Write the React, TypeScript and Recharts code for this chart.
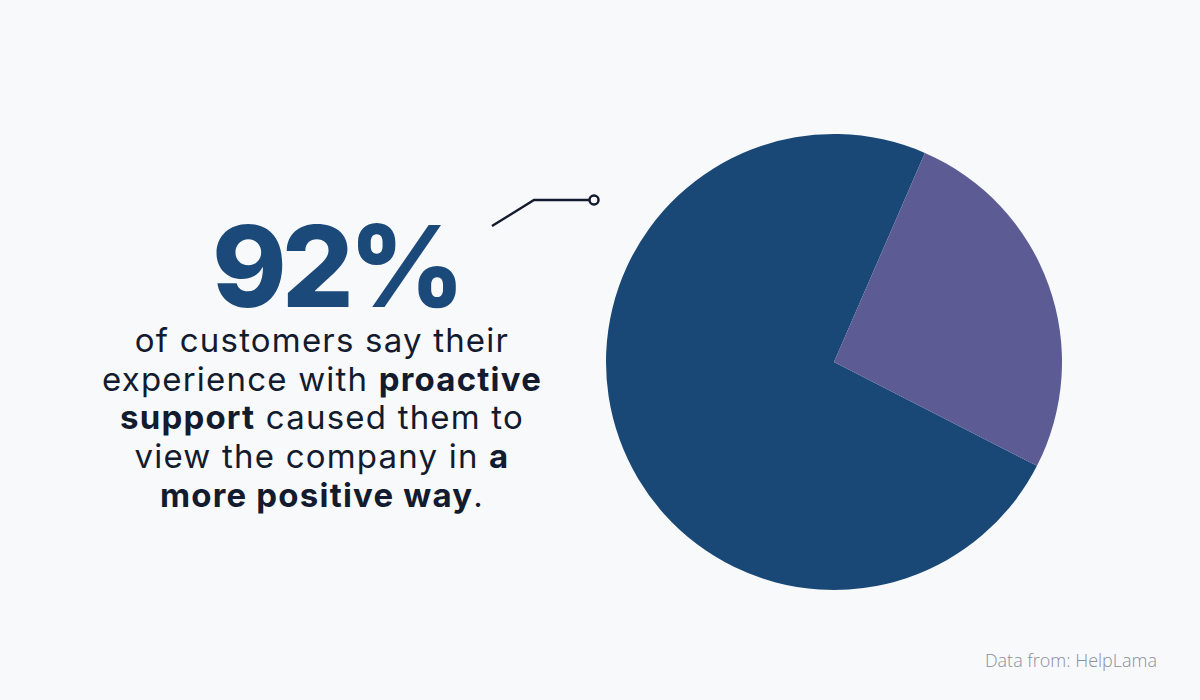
import { PieChart, Pie, Cell } from "recharts";

// share of the pie as drawn (dark slice vs purple slice)
const sliceNames = ["Positive view", "Other"];
const sliceValues = [74, 26];

const headline = "92%";
const bodyLines: { text: string; bold: boolean }[][] = [
  [{ text: "of customers say their", bold: false }],
  [
    { text: "experience with ", bold: false },
    { text: "proactive", bold: true },
  ],
  [
    { text: "support", bold: true },
    { text: " caused them to", bold: false },
  ],
  [
    { text: "view the company in ", bold: false },
    { text: "a", bold: true },
  ],
  [
    { text: "more positive way", bold: true },
    { text: ".", bold: false },
  ],
];
const sourceNote = "Data from: HelpLama";

const BG = "#f8f9fb";
const COLORS = ["#194877", "#5c5b93"];
const INK = "#131b2e";

const pieData = sliceNames.map((name, i) => ({ name, value: sliceValues[i] }));

export default function App() {
  return (
    <div
      style={{
        position: "fixed",
        left: 0,
        top: 0,
        width: 1200,
        height: 700,
        background: BG,
      }}
    >
      <PieChart width={1200} height={700} margin={{ top: 0, right: 0, bottom: 0, left: 0 }}>
        <Pie
          data={pieData}
          dataKey="value"
          nameKey="name"
          cx={834}
          cy={362}
          outerRadius={228}
          startAngle={66.5}
          endAngle={426.5}
          stroke="none"
          isAnimationActive={false}
        >
          {pieData.map((d, i) => (
            <Cell key={d.name} fill={COLORS[i]} />
          ))}
        </Pie>

        <text
          x={336}
          y={307}
          textAnchor="middle"
          fontFamily="Inter"
          fontWeight={800}
          fontSize={113}
          letterSpacing={-5}
          fill="#1b4a7a"
        >
          {headline}
        </text>

        {bodyLines.map((line, i) => (
          <text
            key={i}
            x={322}
            y={352 + i * 38.7}
            textAnchor="middle"
            fontFamily="Inter"
            fontSize={33}
            letterSpacing={1.2}
            fill={INK}
          >
            {line.map((seg, j) => (
              <tspan key={j} fontWeight={seg.bold ? 700 : 400}>
                {seg.text}
              </tspan>
            ))}
          </text>
        ))}

        <path
          d="M492,226 L534,200 L589,200"
          fill="none"
          stroke={INK}
          strokeWidth={2.5}
        />
        <circle cx={594} cy={200} r={4.5} fill={BG} stroke={INK} strokeWidth={2.5} />

        <text
          x={1157}
          y={667}
          textAnchor="end"
          fontFamily="Open Sans"
          fontWeight={300}
          fontSize={18}
          fill="#8a8f9c"
        >
          {sourceNote}
        </text>
      </PieChart>
    </div>
  );
}
